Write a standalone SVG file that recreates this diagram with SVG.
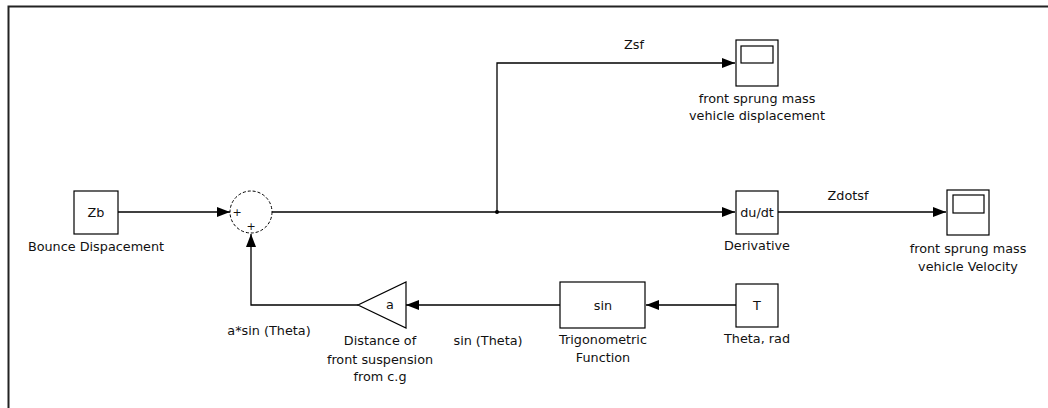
<svg xmlns="http://www.w3.org/2000/svg" width="1048" height="408" viewBox="0 0 1048 408">
<style>
.blk{fill:#fff;stroke:#000;stroke-width:1.2}
.ln{fill:none;stroke:#000;stroke-width:1.3}
.t{font-family:"DejaVu Sans",Verdana,sans-serif;font-size:12.8px;fill:#111;text-anchor:middle}
.s{font-family:"DejaVu Sans",Verdana,sans-serif;font-size:11px;fill:#111;text-anchor:middle}
</style>
<defs>
<marker id="ah" markerUnits="userSpaceOnUse" markerWidth="13" markerHeight="10" refX="13" refY="5" orient="auto">
<path d="M0,0 L13,5 L0,10 z" fill="#000"/>
</marker>
</defs>
<rect x="0" y="0" width="1048" height="408" fill="#fff"/>
<path d="M8.5,408 V6.5 H1048" fill="none" stroke="#222" stroke-width="2"/>
<g id="connectors">
<path class="ln" d="M118,212 H230" marker-end="url(#ah)"/>
<path class="ln" d="M272,212 H735" marker-end="url(#ah)"/>
<path class="ln" d="M497,212 V63 H735" marker-end="url(#ah)"/>
<circle cx="497" cy="212" r="2" fill="#000"/>
<path class="ln" d="M778,212 H946" marker-end="url(#ah)"/>
<path class="ln" d="M736,305 H646" marker-end="url(#ah)"/>
<path class="ln" d="M560,305 H406" marker-end="url(#ah)"/>
<path class="ln" d="M358,305 H251 V234" marker-end="url(#ah)"/>
<text class="t" x="634" y="49">Zsf</text>
<text class="t" x="848" y="200">Zdotsf</text>
<text class="t" x="269" y="335">a*sin (Theta)</text>
<text class="t" x="488" y="345">sin (Theta)</text>
</g>
<g id="zb">
<rect class="blk" x="74" y="191" width="44" height="43"/>
<text class="t" x="96" y="217">Zb</text>
<text class="t" x="96" y="250.5">Bounce Dispacement</text>
</g>
<g id="sum">
<circle cx="251" cy="212" r="21" fill="#fff" stroke="#000" stroke-width="1" stroke-dasharray="3,2"/>
<text class="s" x="237" y="216">+</text>
<text class="s" x="251" y="230">+</text>
</g>
<g id="scope1">
<rect class="blk" x="736" y="40" width="42" height="46"/>
<rect class="blk" x="741" y="46" width="32" height="17"/>
<text class="t" x="757" y="102.7">front sprung mass</text>
<text class="t" x="757" y="120">vehicle displacement</text>
</g>
<g id="derivative">
<rect class="blk" x="736" y="191" width="42" height="43"/>
<text class="t" x="757" y="217">du/dt</text>
<text class="t" x="757" y="250">Derivative</text>
</g>
<g id="scope2">
<rect class="blk" x="947" y="190" width="42" height="45"/>
<rect class="blk" x="953" y="195" width="31" height="18"/>
<text class="t" x="968" y="252.7">front sprung mass</text>
<text class="t" x="968" y="270.7">vehicle Velocity</text>
</g>
<g id="theta">
<rect class="blk" x="736" y="284" width="42" height="43"/>
<text class="t" x="757" y="310">T</text>
<text class="t" x="757" y="343">Theta, rad</text>
</g>
<g id="trig">
<rect class="blk" x="560" y="282" width="85" height="46"/>
<text class="t" x="603" y="310">sin</text>
<text class="t" x="603" y="344">Trigonometric</text>
<text class="t" x="603" y="362">Function</text>
</g>
<g id="gain">
<path class="blk" d="M406,282 V328 L358,305 z"/>
<text class="t" x="390" y="309">a</text>
<text class="t" x="380" y="345">Distance of</text>
<text class="t" x="380" y="364">front suspension</text>
<text class="t" x="380" y="381">from c.g</text>
</g>
</svg>
